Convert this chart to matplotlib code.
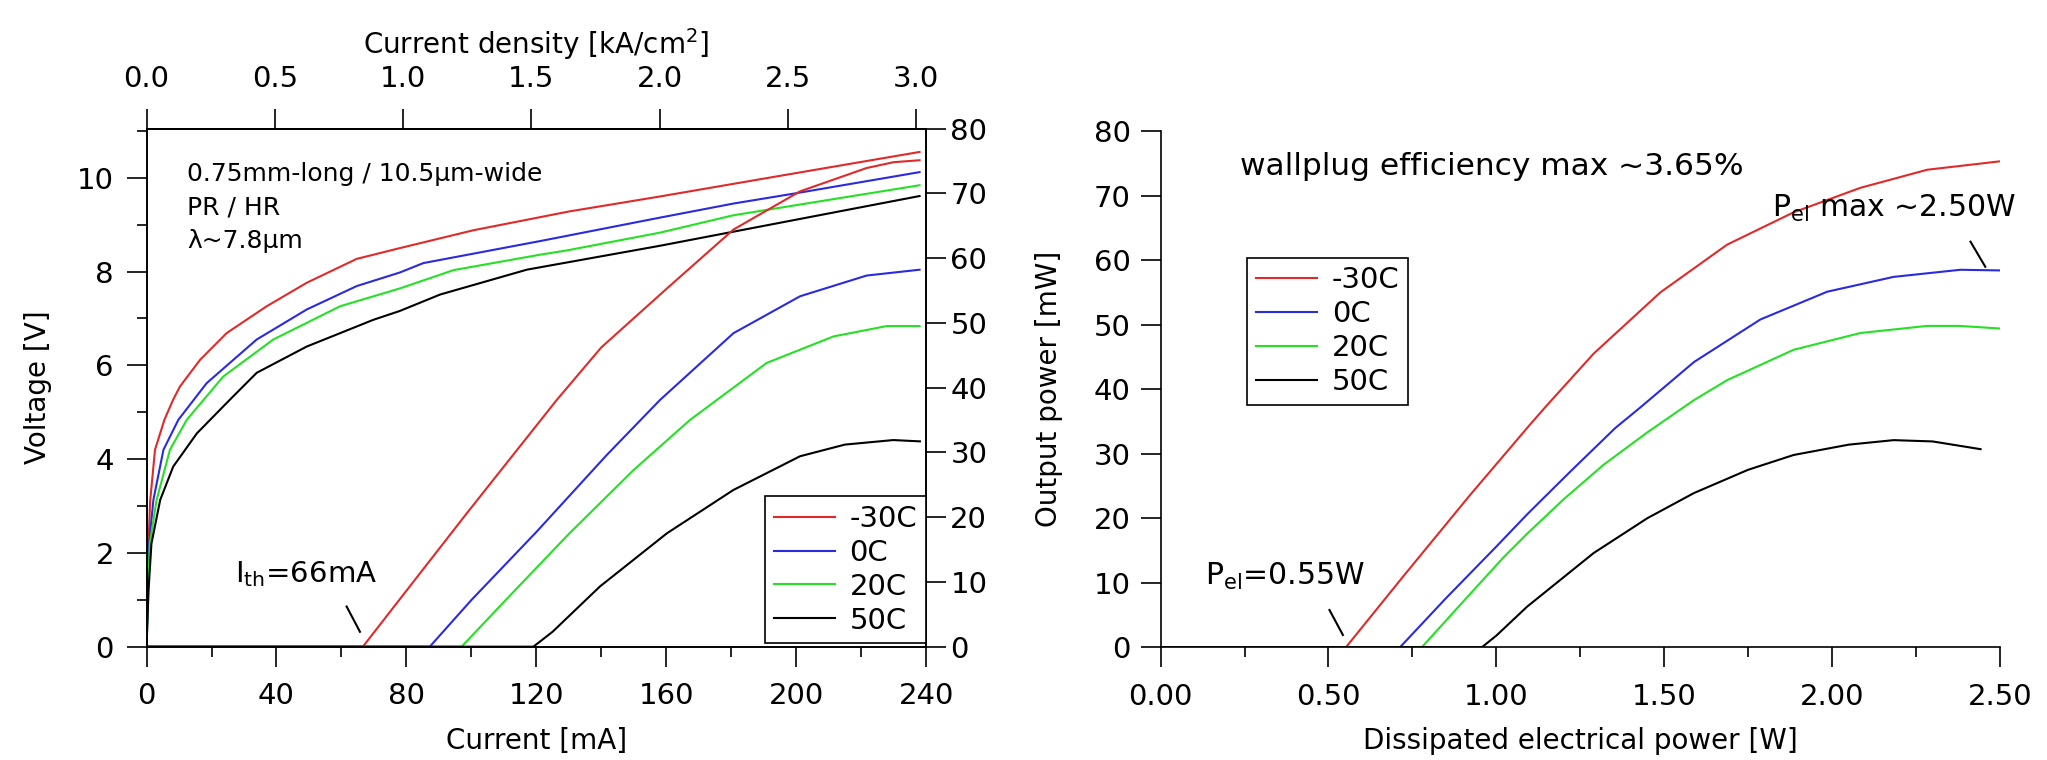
import numpy as np
import matplotlib
matplotlib.use("Agg")
import matplotlib.pyplot as plt
from matplotlib.ticker import MultipleLocator, FormatStrFormatter

plt.rcParams['font.family'] = ['DejaVu Sans']
plt.rcParams['mathtext.default'] = 'regular'

labels = ["-30C", "0C", "20C", "50C"]
colors = ["#e02a2a", "#2a2ae0", "#25e025", "#000000"]

# voltage vs current (left axis)
iv_cur_m30 = [0, 0.3, 0.6, 1.1, 2.6, 5.5, 8.2, 10.3, 16.5, 24.7, 37, 49.3, 64.7, 78, 100.6, 130, 158, 200, 238]
iv_volt_m30 = [0, 1.2, 2.2, 3.1, 4.2, 4.84, 5.27, 5.55, 6.12, 6.69, 7.26, 7.76, 8.27, 8.5, 8.88, 9.28, 9.6, 10.1, 10.55]
iv_cur_0 = [0, 0.4, 0.8, 2.1, 5.2, 9.8, 18.5, 33.9, 49.3, 64.7, 78, 85.2, 121.2, 158.1, 180.7, 200, 238]
iv_volt_0 = [0, 1.2, 2.2, 3.13, 4.2, 4.84, 5.62, 6.55, 7.19, 7.69, 7.98, 8.18, 8.65, 9.15, 9.45, 9.67, 10.12]
iv_cur_20 = [0, 0.5, 1.0, 3.1, 7.2, 12.4, 23.6, 39, 59.6, 78, 94.5, 121.2, 129.4, 158.1, 180.7, 238]
iv_volt_20 = [0, 1.2, 2.2, 3.13, 4.2, 4.84, 5.76, 6.55, 7.26, 7.64, 8.03, 8.36, 8.45, 8.83, 9.2, 9.84]
iv_cur_50 = [0, 0.6, 1.5, 4.2, 8.2, 15.5, 25.7, 33.9, 49.3, 69.8, 78, 90.4, 117.1, 158.1, 180.7, 238]
iv_volt_50 = [0, 1.2, 2.2, 3.13, 3.84, 4.55, 5.27, 5.84, 6.4, 6.97, 7.16, 7.51, 8.04, 8.55, 8.85, 9.61]

# output power vs current (right axis)
li_cur_m30 = [0, 66.6, 80.1, 98.6, 126.3, 140, 160.2, 180.7, 201.2, 221.7, 230, 238]
li_pow_m30 = [0, 0, 8.7, 20.6, 38.1, 46.2, 55.3, 64.4, 70.3, 73.9, 74.8, 75.1]
li_cur_0 = [0, 87.2, 100, 120, 141.7, 158.1, 180.7, 201.2, 221.7, 238]
li_pow_0 = [0, 0, 7.2, 17.7, 29.6, 38.1, 48.4, 54.1, 57.3, 58.2]
li_cur_20 = [0, 97, 110, 130, 150, 167.3, 190.9, 211.5, 227.9, 238]
li_pow_20 = [0, 0, 6.9, 17.4, 27.3, 35.0, 43.8, 47.9, 49.5, 49.5]
li_cur_50 = [0, 119.1, 125, 139.6, 160.2, 180.7, 201.2, 215, 229.9, 238.1]
li_pow_50 = [0, 0, 2.3, 9.3, 17.5, 24.2, 29.4, 31.2, 31.9, 31.7]

# output power vs dissipated electrical power
pe_w_m30 = [0, 0.552, 0.723, 0.922, 1.102, 1.151, 1.29, 1.489, 1.688, 1.886, 2.085, 2.284, 2.5]
pe_pow_m30 = [0, 0, 11.0, 23.6, 34.6, 37.5, 45.5, 55.0, 62.4, 67.4, 71.2, 74.0, 75.3]
pe_w_0 = [0, 0.713, 0.85, 1.0, 1.092, 1.22, 1.355, 1.43, 1.589, 1.787, 1.986, 2.184, 2.383, 2.5]
pe_pow_0 = [0, 0, 7.6, 15.6, 20.6, 27.2, 34.0, 37.2, 44.2, 50.8, 55.1, 57.4, 58.5, 58.4]
pe_w_20 = [0, 0.778, 0.9, 1.021, 1.092, 1.2, 1.32, 1.45, 1.589, 1.688, 1.886, 2.085, 2.284, 2.38, 2.5]
pe_pow_20 = [0, 0, 7.0, 13.9, 17.6, 22.9, 28.3, 33.3, 38.3, 41.4, 46.1, 48.7, 49.8, 49.8, 49.4]
pe_w_50 = [0, 0.957, 1.0, 1.092, 1.29, 1.45, 1.589, 1.75, 1.886, 2.05, 2.184, 2.3, 2.443]
pe_pow_50 = [0, 0, 1.8, 6.3, 14.6, 20.0, 23.9, 27.5, 29.8, 31.4, 32.1, 31.9, 30.7]

iv_cur = [iv_cur_m30, iv_cur_0, iv_cur_20, iv_cur_50]
iv_volt = [iv_volt_m30, iv_volt_0, iv_volt_20, iv_volt_50]
li_cur = [li_cur_m30, li_cur_0, li_cur_20, li_cur_50]
li_pow = [li_pow_m30, li_pow_0, li_pow_20, li_pow_50]
pe_w = [pe_w_m30, pe_w_0, pe_w_20, pe_w_50]
pe_pow = [pe_pow_m30, pe_pow_0, pe_pow_20, pe_pow_50]

TICK = 21
LAB = 20
lw = 1.5
TL = 14.5

fig = plt.figure(figsize=(20.47, 7.6), dpi=100)

# ---- left panel: V-I and L-I
ax1 = fig.add_axes([0.0716, 0.1491, 0.3808, 0.6818])
ax2 = ax1.twinx()
for i in range(4):
    ax1.plot(iv_cur[i], iv_volt[i], color=colors[i], lw=lw)
    ax2.plot(li_cur[i], li_pow[i], color=colors[i], lw=lw, label=labels[i])
ax1.set_xlim(0, 240)
ax1.set_ylim(0, 11.05)
ax2.set_ylim(0, 80)
ax1.xaxis.set_major_locator(MultipleLocator(40))
ax1.xaxis.set_minor_locator(MultipleLocator(20))
ax1.yaxis.set_major_locator(MultipleLocator(2))
ax1.yaxis.set_minor_locator(MultipleLocator(1))
ax2.yaxis.set_major_locator(MultipleLocator(10))
for a in (ax1, ax2):
    a.tick_params(which='major', direction='out', length=TL, width=1.2, labelsize=TICK)
    a.tick_params(which='minor', direction='out', length=7, width=1.2)
    for s in a.spines.values():
        s.set_linewidth(1.2)
ax1.tick_params(axis='x', which='major', pad=11)
ax1.tick_params(axis='y', which='major', pad=9)
ax2.tick_params(axis='y', which='major', pad=3)

sec = ax1.secondary_xaxis('top', functions=(lambda x: x / 79.0, lambda x: x * 79.0))
sec.xaxis.set_major_locator(MultipleLocator(0.5))
sec.xaxis.set_major_formatter(FormatStrFormatter('%.1f'))
sec.tick_params(direction='out', length=TL, width=1.2, labelsize=TICK, pad=11)
sec.spines['top'].set_linewidth(1.2)
sec.set_xlabel("Current density [kA/cm$^2$]", fontsize=LAB, labelpad=8)

ax1.set_xlabel("Current [mA]", fontsize=LAB, labelpad=12)
ax1.set_ylabel("Voltage [V]", fontsize=LAB, labelpad=18)

ax1.text(12.4, 9.93, "0.75mm-long / 10.5\u00b5m-wide", fontsize=18, va='baseline')
ax1.text(12.4, 9.22, "PR / HR", fontsize=18, va='baseline')
ax1.text(12.4, 8.50, "\u03bb~7.8\u00b5m", fontsize=18, va='baseline')
ax2.text(27.25, 9.9, "I$_{th}$=66mA", fontsize=21, va='baseline')
ax2.plot([61.6, 65.7], [6.2, 2.3], color='k', lw=1.5)

leg1 = ax2.legend(loc='lower right', bbox_to_anchor=(1.0, 0.0066), borderaxespad=0,
                  fontsize=21, handlelength=2.1, handletextpad=0.5, labelspacing=0.2,
                  borderpad=0.3, fancybox=False, framealpha=1, edgecolor='k')
leg1.get_frame().set_linewidth(1.2)

# ---- right panel: L vs dissipated power
ax3 = fig.add_axes([0.567, 0.1483, 0.4099, 0.6793])
for i in range(4):
    ax3.plot(pe_w[i], pe_pow[i], color=colors[i], lw=lw, label=labels[i])
ax3.set_xlim(0, 2.5)
ax3.set_ylim(0, 80)
ax3.spines['top'].set_visible(False)
ax3.spines['right'].set_visible(False)
ax3.spines['left'].set_linewidth(1.2)
ax3.spines['bottom'].set_linewidth(1.2)
ax3.xaxis.set_major_locator(MultipleLocator(0.5))
ax3.xaxis.set_minor_locator(MultipleLocator(0.25))
ax3.xaxis.set_major_formatter(FormatStrFormatter('%.2f'))
ax3.yaxis.set_major_locator(MultipleLocator(10))
ax3.tick_params(which='major', direction='out', length=TL, width=1.2, labelsize=TICK)
ax3.tick_params(which='minor', direction='out', length=7, width=1.2)
ax3.tick_params(axis='x', which='major', pad=11)
ax3.tick_params(axis='y', which='major', pad=7)
ax3.set_xlabel("Dissipated electrical power [W]", fontsize=LAB, labelpad=12)
ax3.set_ylabel("Output power [mW]", fontsize=LAB, labelpad=22)

ax3.text(0.237, 73.2, "wallplug efficiency max ~3.65%", fontsize=22.5, va='baseline')
ax3.text(1.822, 66.7, "P$_{el}$ max ~2.50W", fontsize=21.5, va='baseline')
ax3.plot([2.413, 2.457], [62.85, 58.97], color='k', lw=1.5, clip_on=False)
ax3.text(0.1323, 9.65, "P$_{el}$=0.55W", fontsize=21.5, va='baseline')
ax3.plot([0.503, 0.543], [5.78, 1.91], color='k', lw=1.5)

leg2 = ax3.legend(loc='upper left', bbox_to_anchor=(0.103, 0.755), borderaxespad=0,
                  fontsize=21, handlelength=2.1, handletextpad=0.5, labelspacing=0.2,
                  borderpad=0.3, fancybox=False, framealpha=1, edgecolor='k')
leg2.get_frame().set_linewidth(1.2)

fig.savefig("out.png", dpi=100)
